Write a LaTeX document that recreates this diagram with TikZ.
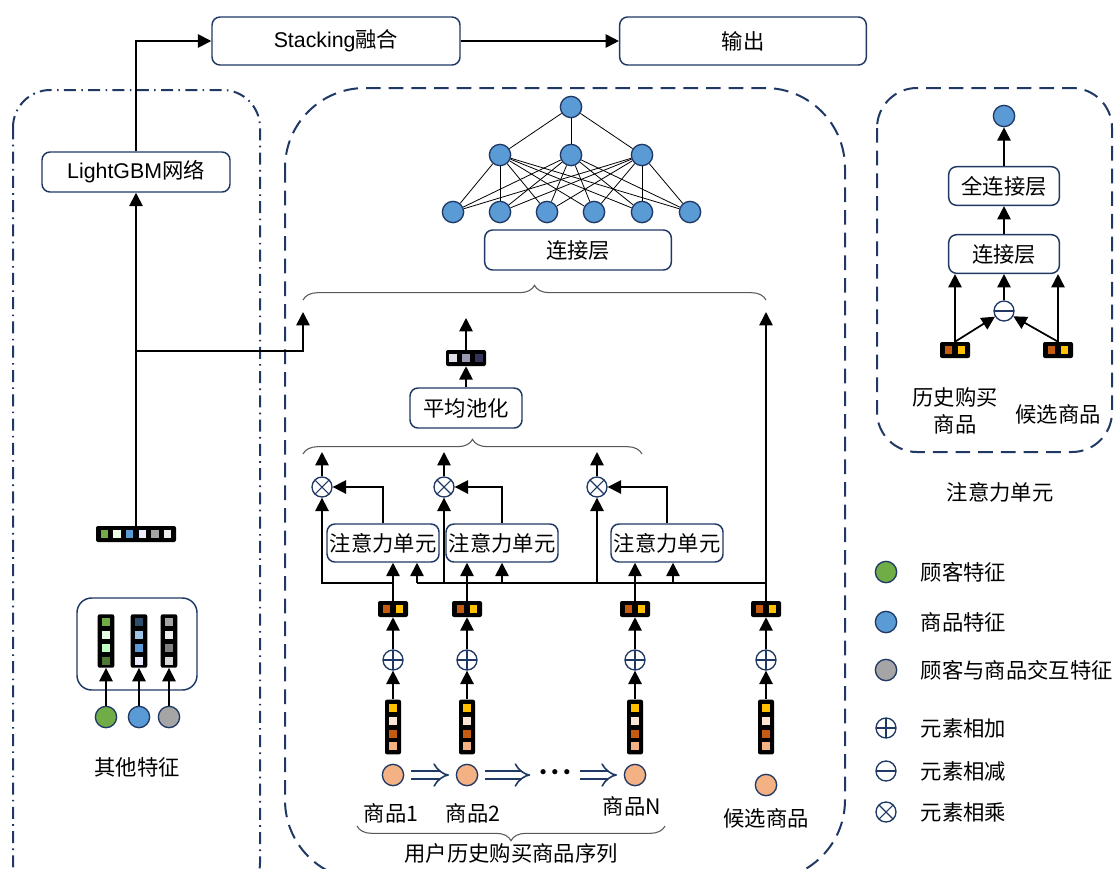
\documentclass[tikz,border=0pt]{standalone}
\usepackage{fontspec}
\setmainfont{Liberation Sans}
\newfontfamily\cjk{Noto Sans CJK SC}
\usetikzlibrary{arrows.meta,decorations.pathreplacing}
\definecolor{navy}{HTML}{1F3864}
\definecolor{nblue}{HTML}{5B9BD5}
\definecolor{ngreen}{HTML}{70AD47}
\definecolor{ngrey}{HTML}{A5A5A5}
\definecolor{npeach}{HTML}{F4B183}
\definecolor{odark}{HTML}{C55A11}
\definecolor{ogold}{HTML}{FFC000}
\definecolor{olight}{HTML}{FBE5D6}
\begin{document}
\begin{tikzpicture}[x=0.75pt,y=-0.75pt,font=\cjk\fontsize{16}{20.5}\selectfont]
\tikzstyle{box} = [draw=navy, line width=1.1pt, rounded corners=6pt, fill=white, inner sep=0.5pt] % blocks
\tikzstyle{ball} = [circle, draw=navy, line width=1pt, minimum size=16pt, inner sep=0pt] % feature nodes
\tikzstyle{op} = [circle, draw=navy, line width=1pt, minimum size=15pt, inner sep=0pt, fill=white] % element-wise ops
\tikzstyle{opplus} = [op, path picture={\draw[line width=0.8pt] (path picture bounding box.north) -- (path picture bounding box.south) (path picture bounding box.west) -- (path picture bounding box.east);}]
\tikzstyle{opminus} = [op, path picture={\draw[line width=0.8pt] (path picture bounding box.west) -- (path picture bounding box.east);}]
\tikzstyle{optimes} = [op, path picture={\draw[line width=0.8pt] (path picture bounding box.north west) -- (path picture bounding box.south east) (path picture bounding box.north east) -- (path picture bounding box.south west);}]
\tikzstyle{vecbox} = [fill=black, rounded corners=1.5pt, inner sep=0pt] % embedding vectors
\tikzstyle{sq} = [minimum size=5.5pt, inner sep=0pt]
\tikzstyle{arr} = [-{Triangle[width=10pt,length=10pt]}, line width=1.3pt]
\tikzstyle{wire} = [line width=1.3pt]
\tikzstyle{brc} = [decorate, decoration={brace, amplitude=11pt}, draw=black!65, line width=0.8pt]
\tikzstyle{hollow} = [double=white, double distance=5pt, line width=1.2pt, draw=navy, -{Implies[scale=1.2]}, shorten <=5pt, shorten >=5pt]
\useasboundingbox (0,0) rectangle (1119,868);

% containers
\draw[navy, line width=1.5pt, dash pattern=on 9pt off 4pt on 1.2pt off 4pt, rounded corners=28pt] (13,90) rectangle (260,900);
\draw[navy, line width=1.5pt, dash pattern=on 11pt off 6pt, rounded corners=60pt] (285,88) rectangle (845,880);
\draw[navy, line width=1.5pt, dash pattern=on 11pt off 6pt, rounded corners=30pt] (877,88) rectangle (1112,452);

% top row
\node[box, minimum width=186pt, minimum height=36pt] (stack) at (336,41) {{\rmfamily Stacking}融合};
\node[box, minimum width=185pt, minimum height=36pt] (out) at (743,41) {输出};
\draw[arr] (stack.east) -- (out.west);

% left part: other features
\node[box, minimum width=141pt, minimum height=30pt] (gbm) at (136,172) {{\rmfamily LightGBM}网络};
\draw[arr] (gbm.north) |- (stack.west);
\node[vecbox, minimum width=60pt, minimum height=12pt] (fvec) at (136,534) {};
\foreach \k/\c in {0/ngreen, 1/green!8, 2/nblue, 3/blue!8, 4/ngrey, 5/black!7}
  \node[sq, fill=\c] at (104.5+12.6*\k,534) {};
\draw[arr] (fvec.north) -- (gbm.south);
\coordinate (jL) at (136,351);
\coordinate (tipL) at (303,312);
\draw[arr] (jL) -| (tipL);
\node[draw=navy, line width=1.1pt, rounded corners=11pt, minimum width=90pt, minimum height=69pt] (fbox) at (137,644) {};
\foreach \n/\x/\ca/\cb/\cc/\cd in {1/106/ngreen/green!10/green!25/ngreen!70!black, 2/139/nblue!50!black/nblue!60/nblue/blue!8, 3/169/ngrey/black!7/black!50/black!15} {
  \node[vecbox, minimum width=12.5pt, minimum height=40pt] (fv\n) at (\x,641) {};
  \node[sq, fill=\ca] at (\x,622) {};
  \node[sq, fill=\cb] at (\x,635) {};
  \node[sq, fill=\cc] at (\x,648) {};
  \node[sq, fill=\cd] at (\x,661) {};
}
\node[ball, fill=ngreen] (c1) at (106,717) {};
\node[ball, fill=nblue] (c2) at (139,717) {};
\node[ball, fill=ngrey] (c3) at (169,717) {};
\foreach \n in {1,2,3} \draw[arr] (c\n.north) -- (fv\n.south);
\node (other) at (137,767) {其他特征};

% middle part: network
\node[ball, fill=nblue] (top) at (571,107) {};
\foreach \i/\x in {1/500,2/571,3/642} \node[ball, fill=nblue] (m\i) at (\x,155) {};
\foreach \j/\x in {1/453,2/500,3/547,4/594,5/642,6/690} \node[ball, fill=nblue] (b\j) at (\x,212) {};
\foreach \i in {1,2,3} {
  \draw[line width=0.6pt] (top) -- (m\i);
  \foreach \j in {1,...,6} \draw[line width=0.6pt] (m\i) -- (b\j);
}
\node[box, minimum width=140pt, minimum height=30pt] (cat) at (578,250) {连接层};
\draw[brc] (303,300) -- (766,300);

% pooling
\node[vecbox, minimum width=30pt, minimum height=12pt] (pbar) at (466,358) {};
\foreach \k/\c in {0/blue!10!black!12, 1/blue!25!black!40, 2/blue!20!black!80} \node[sq, fill=\c] at (453+13*\k,358) {};
\coordinate (tipP) at (466,318);
\draw[arr] (pbar.north) -- (tipP);
\node[box, minimum width=84pt, minimum height=30pt] (pool) at (466,408) {平均池化};
\draw[arr] (pool.north) -- (pbar.south);
\draw[brc] (303,454) -- (642,454);

% attention units
\foreach \n/\x in {1/322,2/444,3/597} {
  \node[optimes] (x\n) at (\x,487) {};
  \coordinate (up\n) at (\x,452);
  \draw[arr] (x\n.north) -- (up\n);
}
\node[box, minimum width=84pt, minimum height=28.5pt] (a1) at (383,543) {注意力单元};
\node[box, minimum width=84pt, minimum height=28.5pt] (a2) at (502,543) {注意力单元};
\node[box, minimum width=84pt, minimum height=28.5pt] (a3) at (667,543) {注意力单元};
\foreach \n in {1,2,3} \draw[arr] (a\n.north) |- (x\n.east);

% item sequence and candidate
\coordinate (bus) at (0,583);
\foreach \n/\x in {1/393,2/467,N/635,c/766} {
  \node[vecbox, minimum width=22.5pt, minimum height=12pt] (e\n) at (\x,609) {};
  \node[sq, fill=odark] at (\x-6.5,609) {};
  \node[sq, fill=ogold] at (\x+6.5,609) {};
  \node[opplus] (p\n) at (\x,660) {};
  \node[vecbox, minimum width=12pt, minimum height=41pt] (v\n) at (\x,727) {};
  \node[sq, fill=ogold] at (\x,708) {};
  \node[sq, fill=olight] at (\x,721) {};
  \node[sq, fill=odark] at (\x,734) {};
  \node[sq, fill=npeach] at (\x,746) {};
  \draw[arr] (v\n.north) -- (p\n.south);
  \draw[arr] (p\n.north) -- (e\n.south);
}
\node[ball, fill=npeach] (i1) at (393,775) {};
\node[ball, fill=npeach] (i2) at (467,775) {};
\node[ball, fill=npeach] (iN) at (635,775) {};
\node[ball, fill=npeach] (ic) at (766,785) {};
\node[font=\fontsize{10}{10}\selectfont, inner sep=2pt] (dots) at (555,773) {$\bullet\mkern3mu\bullet\mkern3mu\bullet$};
\draw[hollow] (i1) -- (i2);
\draw[hollow] (i2) -- (i2 -| dots.west);
\draw[hollow] (iN -| dots.east) -- (iN);
\node (l1) at (391,813) {商品1};
\node (l2) at (473,813) {商品2};
\node (lN) at (632,806) {商品N};
\node (lc) at (766,818) {候选商品};
\draw[brc] (665,826) -- (357,826);
\node (seq) at (511,853) {用户历史购买商品序列};

% wiring into attention units
\coordinate (t1) at (417,583);
\coordinate (t2) at (502,583);
\coordinate (t3) at (673,583);
\coordinate (tipC) at (766,312);
\draw[wire] (t1) -- (ec |- bus);
\draw[arr] (ec.north) -- (tipC);
\draw[arr] (e1.north) -- (e1.north |- a1.south);
\draw[arr] (e1 |- bus) -| (x1.south);
\draw[arr] (e2.north) -- (e2.north |- a2.south);
\draw[arr] (eN.north) -- (eN.north |- a3.south);
\draw[arr] (t1) -- (t1 |- a1.south);
\draw[arr] (t2) -- (t2 |- a2.south);
\draw[arr] (t3) -- (t3 |- a3.south);
\draw[arr] (x2 |- bus) -- (x2.south);
\draw[arr] (x3 |- bus) -- (x3.south);

% right part: attention unit
\node[ball, fill=nblue] (ro) at (1004,116) {};
\node[box, minimum width=83pt, minimum height=29pt] (fc) at (1004,186) {全连接层};
\node[box, minimum width=83pt, minimum height=29pt] (rcat) at (1004,254) {连接层};
\node[opminus] (mi) at (1004,311) {};
\foreach \n/\x in {1/955,2/1058} {
  \node[vecbox, minimum width=22.5pt, minimum height=12pt] (hb\n) at (\x,350) {};
  \node[sq, fill=odark] at (\x-6.5,350) {};
  \node[sq, fill=ogold] at (\x+6.5,350) {};
  \draw[arr] (hb\n.north) -- (hb\n.north |- rcat.south);
  \draw[arr] (hb\n.north) -- (mi);
}
\draw[arr] (mi.north) -- (rcat.south);
\draw[arr] (rcat.north) -- (fc.south);
\draw[arr] (fc.north) -- (ro.south);
\node[align=center] (lh) at (955,411) {历史购买\\商品};
\node (lk) at (1058,414) {候选商品};
\node (att) at (1000,492) {注意力单元};

% legend
\node[ball, fill=ngreen] (g1) at (886,572) {};
\node[ball, fill=nblue] (g2) at (886,622) {};
\node[ball, fill=ngrey] (g3) at (886,670) {};
\node[opplus] (g4) at (886,728) {};
\node[opminus] (g5) at (886,771) {};
\node[optimes] (g6) at (886,812) {};
\node[anchor=west] at (916,572) {顾客特征};
\node[anchor=west] at (916,622) {商品特征};
\node[anchor=west] at (916,670) {顾客与商品交互特征};
\node[anchor=west] at (916,728) {元素相加};
\node[anchor=west] at (916,771) {元素相减};
\node[anchor=west] at (916,812) {元素相乘};
\end{tikzpicture}
\end{document}
